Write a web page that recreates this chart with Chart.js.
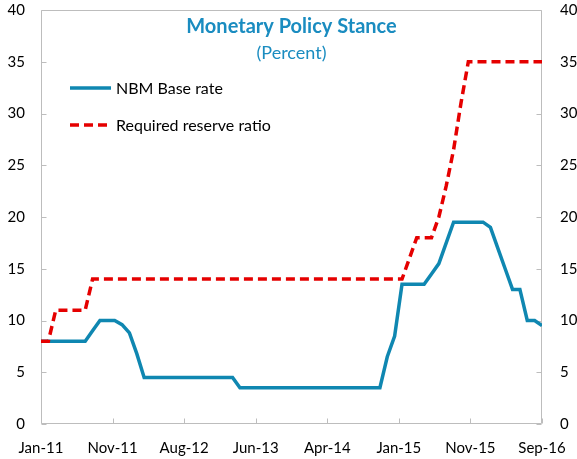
<!DOCTYPE html>
<html><head><meta charset="utf-8">
<script src="https://cdn.jsdelivr.net/npm/chart.js@4"></script>
<style>html,body{margin:0;padding:0;background:#fff}#wrap{width:577px;height:459px}</style>
</head><body><div id="wrap"><canvas id="c" width="577" height="459"></canvas></div>
<script>
const xTickLabels = ['Jan-11','Nov-11','Aug-12','Jun-13','Apr-14','Jan-15','Nov-15','Sep-16'];
const yTicks = [0,5,10,15,20,25,30,35,40];
// monthly, Jan-11 .. Sep-16 (69 months)
const baseRate = [
  8,8,8,8,8,8,8, 9, 10,10,10, 9.6,8.8,6.8,
  4.5,4.5,4.5,4.5,4.5,4.5,4.5,4.5,4.5,4.5,4.5,4.5,4.5,
  3.5,3.5,3.5,3.5,3.5,3.5,3.5,3.5,3.5,3.5,3.5,3.5,3.5,3.5,3.5,3.5,3.5,3.5,3.5,3.5,
  6.5,8.5, 13.5,13.5,13.5,13.5, 14.5,15.5,17.5,
  19.5,19.5,19.5,19.5,19.5, 19,17,15, 13,13, 10,10, 9.5
];
const reserveRatio = [
  8,8, 11,11,11,11,11,
  14,14,14,14,14,14,14,14,14,14,14,14,14,14,14,14,14,14,14,14,14,
  14,14,14,14,14,14,14,14,14,14,14,14,14,14,14,14,14,14,14,14,14,14,
  16, 18,18,18, 20,23,26.5,31,
  35,35,35,35,35,35,35,35,35,35,35,35
];
const seriesNames = ['NBM Base rate','Required reserve ratio'];
const titleText = 'Monetary Policy Stance';
const subtitleText = '(Percent)';

const BLUE = '#0F87B1', RED = '#E50000', AXIS = '#BDBDBD', FONT = 'Lato';
const toPts = arr => arr.map((v,i)=>({x:i,y:v}));
const lastIdx = baseRate.length - 1;

const frame = {
  id:'frame',
  beforeDatasetsDraw(chart){
    const {ctx, chartArea:a, scales} = chart;
    ctx.save();
    ctx.strokeStyle = AXIS; ctx.lineWidth = 1;
    const L = Math.round(a.left)+0.5, R = Math.round(a.right)-0.5, T = Math.round(a.top)+0.5, B = Math.round(a.bottom)-0.5;
    ctx.beginPath();
    ctx.moveTo(L,T); ctx.lineTo(R,T); ctx.lineTo(R,B); ctx.lineTo(L,B); ctx.closePath();
    scales.y.ticks.forEach(t=>{ const y = Math.round(scales.y.getPixelForValue(t.value))+0.5; ctx.moveTo(L,y); ctx.lineTo(L+5,y); ctx.moveTo(R,y); ctx.lineTo(R-5,y); });
    scales.x.ticks.forEach(t=>{ const x = Math.round(scales.x.getPixelForValue(t.value))+0.5; ctx.moveTo(x,B); ctx.lineTo(x,B-5); });
    ctx.stroke();
    ctx.restore();
  },
  afterDraw(chart){
    const {ctx, chartArea:a} = chart;
    const cx = (a.left + a.right)/2;
    ctx.save();
    ctx.textAlign='center'; ctx.textBaseline='middle';
    ctx.fillStyle = '#1A8CC0';
    ctx.font = 'bold 20px '+FONT;
    ctx.fillText(titleText, cx, a.top+17);
    ctx.font = '18px '+FONT;
    ctx.fillText(subtitleText, cx, a.top+43);
    // legend
    ctx.textAlign='left';
    ctx.font = '16px '+FONT; ctx.fillStyle='#000';
    const items = [{c:BLUE, dash:[], y:a.top+78},{c:RED, dash:[9,5], y:a.top+115}];
    items.forEach((it,k)=>{
      ctx.strokeStyle = it.c; ctx.lineWidth = 3.5; ctx.setLineDash(it.dash);
      ctx.beginPath(); ctx.moveTo(a.left+29, it.y); ctx.lineTo(a.left+70, it.y); ctx.stroke();
      ctx.setLineDash([]);
      ctx.fillText(seriesNames[k], a.left+75, it.y+1);
    });
    ctx.restore();
  }
};

const tickFont = {family: FONT, size: 15};
new Chart(document.getElementById('c'), {
  type:'line',
  data:{datasets:[
    {label:seriesNames[0], data:toPts(baseRate), borderColor:BLUE, borderWidth:3.5, pointRadius:0, tension:0, order:2},
    {label:seriesNames[1], data:toPts(reserveRatio), borderColor:RED, borderWidth:3.5, borderDash:[9,5], pointRadius:0, tension:0, order:1}
  ]},
  options:{
    responsive:false, animation:false,
    layout:{padding:{top:10,left:0,right:0,bottom:0}},
    plugins:{legend:{display:false}, tooltip:{enabled:false}, title:{display:false}},
    scales:{
      x:{type:'linear', min:0, max:lastIdx,
        grid:{display:false, drawTicks:true, tickLength:15}, border:{display:false},
        afterBuildTicks:s=>{ s.ticks = xTickLabels.map((_,k)=>({value:k*lastIdx/(xTickLabels.length-1)})); },
        afterFit:s=>{ s.height = 35; },
        ticks:{autoSkip:false, maxRotation:0, padding:0, color:'#000', font:tickFont, callback:(v,i)=>xTickLabels[i]}},
      y:{position:'left', min:0, max:40,
        grid:{display:false, drawTicks:true, tickLength:16}, border:{display:false},
        afterBuildTicks:s=>{ s.ticks = yTicks.map(v=>({value:v})); },
        afterFit:s=>{ s.width = 41; },
        ticks:{padding:0, color:'#000', font:tickFont}},
      y2:{position:'right', min:0, max:40,
        grid:{display:false, drawTicks:true, tickLength:18}, border:{display:false},
        afterBuildTicks:s=>{ s.ticks = yTicks.map(v=>({value:v})); },
        afterFit:s=>{ s.width = 35; },
        ticks:{padding:0, color:'#000', font:tickFont}}
    }
  },
  plugins:[frame]
});
</script></body></html>
